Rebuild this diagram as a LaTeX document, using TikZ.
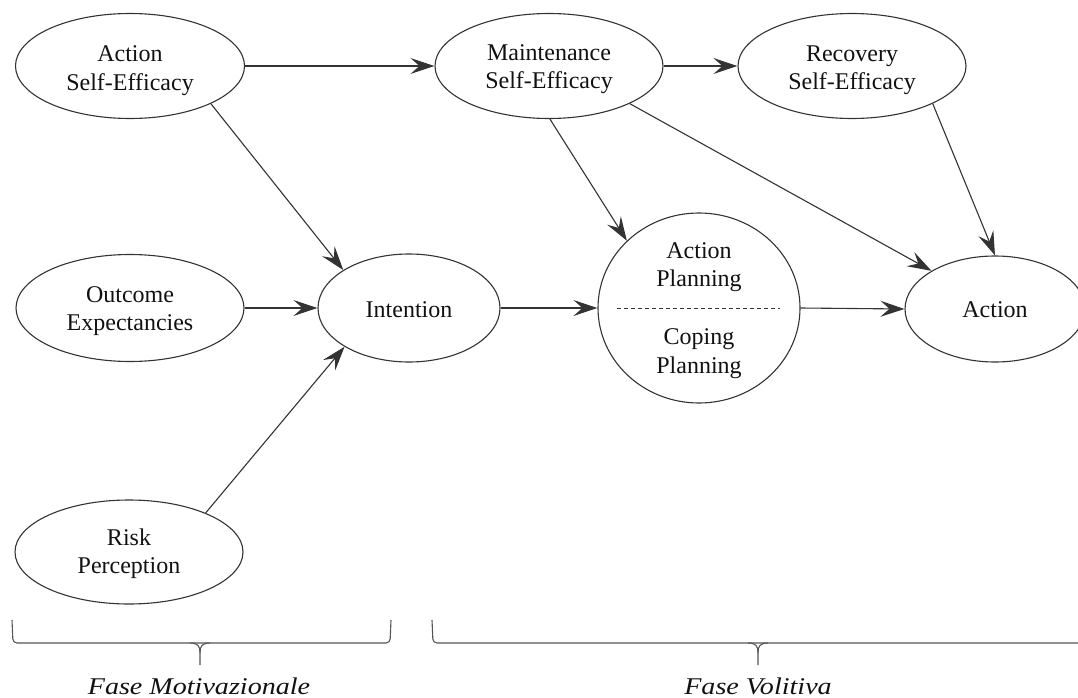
\documentclass[tikz,border=0pt]{standalone}
\usepackage{fontspec}
\setmainfont{Liberation Serif}
\usetikzlibrary{arrows.meta,shapes.geometric}
\definecolor{ink}{HTML}{111111}
\definecolor{linec}{HTML}{333333}
\definecolor{bracec}{HTML}{555555}
\begin{document}
\begin{tikzpicture}[x=1pt,y=-1pt,
  txt/.style={font=\fontsize{24}{28.5}\selectfont, align=center, text=ink, inner sep=0pt},
  ell/.style={draw=linec, line width=1.1pt, ellipse, inner sep=0pt},
  arr/.style={draw=linec, line width=1.1pt, -{Stealth[length=24pt,width=16pt,inset=9pt]}},
  bracel/.style={draw=bracec, line width=1.1pt, rounded corners=4pt},
  cusp/.style={draw=bracec, line width=1.1pt}]
\useasboundingbox (0,0) rectangle (1078,698);
% shapes
\node[ell, minimum width=229pt, minimum height=105pt] (ase) at (130,66) {};
\node[ell, minimum width=228pt, minimum height=105pt] (mse) at (549,66) {};
\node[ell, minimum width=228pt, minimum height=105pt] (rse) at (852,66) {};
\node[ell, minimum width=228pt, minimum height=107pt] (oe) at (130,308) {};
\node[ell, minimum width=182pt, minimum height=108pt] (int) at (409,308) {};
\node[ell, minimum width=202pt, minimum height=190pt] (pl) at (699,308) {};
\node[ell, minimum width=180pt, minimum height=106pt] (act) at (995,309) {};
\node[ell, minimum width=228pt, minimum height=104pt] (rp) at (129,552) {};
% texts
\node[txt] (tase) at (130,70.5) {Action\\Self-Efficacy};
\node[txt] (tmse) at (549,69) {Maintenance\\Self-Efficacy};
\node[txt] (trse) at (852,70) {Recovery\\Self-Efficacy};
\node[txt] (toe) at (130,311) {Outcome\\Expectancies};
\node[txt, anchor=base] (tint) at (409,317) {Intention};
\node[txt] (tap) at (699,267) {Action\\Planning};
\node[txt] (tcp) at (699,353.5) {Coping\\Planning};
\node[txt, anchor=base] (tact) at (995,317) {Action};
\node[txt] (trp) at (129,553.5) {Risk\\Perception};
\coordinate (dl) at (617,308);
\coordinate (dr) at (780,308);
\draw[linec, line width=0.9pt, dash pattern=on 4pt off 3pt] (dl) -- (dr);
% arrows
\draw[arr] (ase.east) -- (mse.west);
\draw[arr] (mse.east) -- (rse.west);
\draw[arr] (ase.-25) -- (int.150);
\draw[arr] (oe.east) -- (int.west);
\draw[arr] (rp.27) -- (int.211);
\draw[arr] (int.east) -- (pl.west);
\draw[arr] (pl.east) -- (act.west);
\draw[arr] (mse.-89) -- (pl.137);
\draw[arr] (mse.-25) -- (act.149);
\draw[arr] (rse.-25) -- (act.north);
% braces
\coordinate (b1tip) at (200,665);
\coordinate (b2tip) at (758,665);
\draw[bracel] (12,620) -- (13,643) -- (390,643) -- (391,620);
\draw[cusp] (190,643) .. controls (198,643) and (200,646) .. (200,653) -- (b1tip);
\draw[cusp] (210,643) .. controls (202,643) and (200,646) .. (200,653);
\draw[bracel] (432,620) -- (433,643) -- (1090,643);
\draw[cusp] (748,643) .. controls (756,643) and (758,646) .. (758,653) -- (b2tip);
\draw[cusp] (768,643) .. controls (760,643) and (758,646) .. (758,653);
\node[txt, anchor=base] (fm) at (199,694) {\itshape\scalebox{1.17}[1]{Fase Motivazionale}};
\node[txt, anchor=base] (fv) at (758,694) {\itshape\scalebox{1.17}[1]{Fase Volitiva}};
\end{tikzpicture}
\end{document}
